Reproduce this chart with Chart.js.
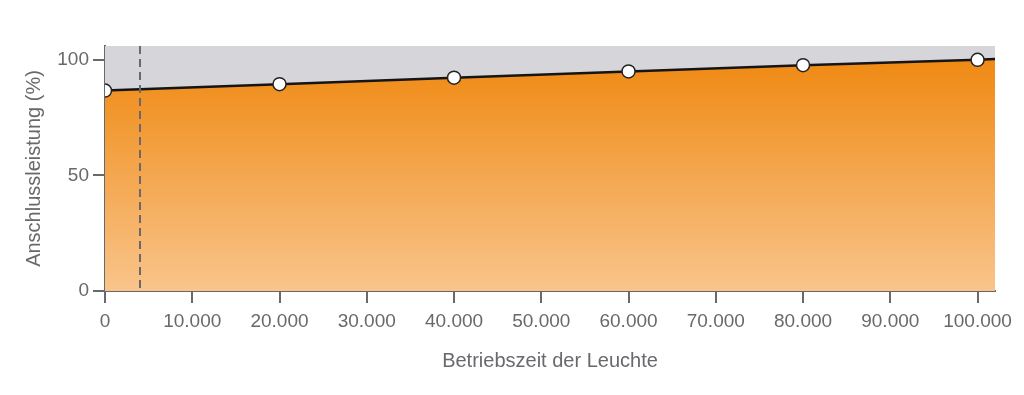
<!DOCTYPE html>
<html>
<head>
<meta charset="utf-8">
<script src="https://cdn.jsdelivr.net/npm/chart.js@4"></script>
<style>
  html, body { margin: 0; padding: 0; background: #fff; }
  #wrap { width: 1024px; height: 395px; }
</style>
</head>
<body>
<div id="wrap"><canvas id="box"></canvas></div>
<script>
// Betriebszeit (h) und Anschlussleistung (%)
var hours = [0, 20000, 40000, 60000, 80000, 100000, 102000];
var power = [86.7, 89.5, 92.3, 95, 97.7, 100, 100.4];
var markerLast = 5; // last index that has a marker
var dashAt = [4000];
var xTicks = [0, 10000, 20000, 30000, 40000, 50000, 60000, 70000, 80000, 90000, 100000];
var yTicks = [0, 50, 100];

var grey = '#68686d';
var font = { family: 'Liberation Sans, Arial, sans-serif', size: 19 };
var titleFont = { family: 'Liberation Sans, Arial, sans-serif', size: 20 };

var points = hours.map(function (h, i) { return { x: h, y: power[i] }; });

function fmt(v) {
    return String(v).replace(/\B(?=(\d{3})+(?!\d))/g, '.');
}

// grey background of the plot area + dashed marker line
var plotDecor = {
    id: 'plotDecor',
    beforeDatasetsDraw: function (chart) {
        var a = chart.chartArea, ctx = chart.ctx;
        ctx.save();
        ctx.fillStyle = '#d6d6da';
        ctx.fillRect(a.left, a.top, a.right - a.left, a.bottom - a.top);
        ctx.restore();
    },
    afterDatasetsDraw: function (chart) {
        var a = chart.chartArea, ctx = chart.ctx;
        ctx.save();
        ctx.strokeStyle = grey;
        ctx.lineWidth = 2;
        ctx.setLineDash([8, 5]);
        dashAt.forEach(function (v) {
            var x = Math.round(chart.scales.x.getPixelForValue(v));
            ctx.beginPath();
            ctx.moveTo(x, a.top);
            ctx.lineTo(x, a.bottom);
            ctx.stroke();
        });
        ctx.restore();
    }
};

var mychart = new Chart('box', {
    type: 'line',
    data: {
        datasets: [{
            data: points,
            borderColor: '#151515',
            borderWidth: 2.5,
            tension: 0,
            clip: 0,
            fill: 'origin',
            backgroundColor: function (c) {
                var a = c.chart.chartArea;
                if (!a) return '#f39a35';
                var g = c.chart.ctx.createLinearGradient(0, a.top, 0, a.bottom);
                g.addColorStop(0, '#ef860c');
                g.addColorStop(1, '#f9c48b');
                return g;
            },
            pointRadius: function (c) { return c.dataIndex <= markerLast ? 6.5 : 0; },
            pointBackgroundColor: '#ffffff',
            pointBorderColor: '#222222',
            pointBorderWidth: 1.5
        }]
    },
    options: {
        responsive: true,
        maintainAspectRatio: false,
        animation: false,
        layout: { padding: { top: 46, right: 29 } },
        plugins: { legend: { display: false }, tooltip: { enabled: false } },
        scales: {
            x: {
                type: 'linear',
                min: 0,
                max: 102000,
                z: 1,
                afterFit: function (s) { s.height = 104; },
                afterBuildTicks: function (s) { s.ticks = xTicks.map(function (v) { return { value: v }; }); },
                border: { display: true, color: grey, width: 2 },
                grid: { drawOnChartArea: false, drawTicks: true, tickLength: 12, color: grey, lineWidth: 2 },
                ticks: {
                    autoSkip: false,
                    maxRotation: 0,
                    padding: 7,
                    color: grey,
                    font: font,
                    callback: function (v) { return fmt(v); }
                },
                title: {
                    display: true,
                    text: 'Betriebszeit der Leuchte',
                    color: grey,
                    font: titleFont,
                    padding: { top: 0, bottom: 22 }
                }
            },
            y: {
                min: 0,
                max: 106,
                z: 1,
                afterFit: function (s) { s.width = 105; },
                afterBuildTicks: function (s) { s.ticks = yTicks.map(function (v) { return { value: v }; }); },
                border: { display: true, color: grey, width: 2 },
                grid: { drawOnChartArea: false, drawTicks: true, tickLength: 12, color: grey, lineWidth: 2 },
                ticks: {
                    padding: 4,
                    color: grey,
                    font: font
                },
                title: {
                    display: true,
                    text: 'Anschlussleistung (%)',
                    color: grey,
                    font: titleFont,
                    padding: { top: 22, bottom: 0 }
                }
            }
        }
    },
    plugins: [plotDecor]
});
</script>
</body>
</html>
